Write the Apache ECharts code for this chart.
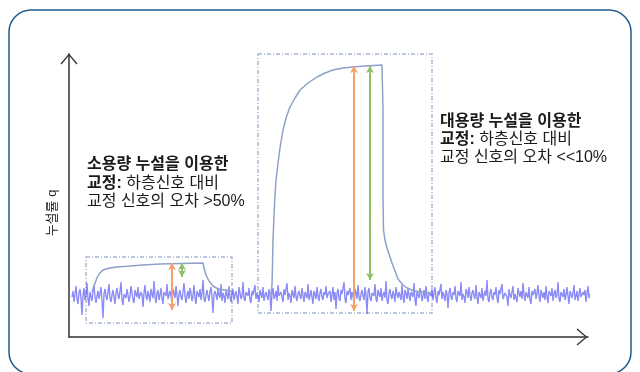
<!DOCTYPE html>
<html>
<head>
<meta charset="utf-8">
<script src="https://cdn.jsdelivr.net/npm/echarts@6/dist/echarts.min.js"></script>
<style>
html,body{margin:0;padding:0;background:#fff;}
#chart{width:640px;height:372px;}
</style>
</head>
<body>
<div id="chart"></div>
<script>
// ---- data (arbitrary units: time t, leak rate q) ----
const noiseStart = 3;
const noiseStep = 1;
const noiseValues = [
40,46,35,43,51,38,33,44,48,39,22,42,49,37,41,54,38,31,45,43,
36,47,52,40,34,41,46,38,44,50,36,19,43,48,41,37,45,53,39,35,
42,47,40,33,44,49,42,38,46,55,37,32,43,45,39,48,42,35,41,51,
44,37,34,47,43,40,50,38,36,45,42,30,44,52,41,37,46,41,35,48,
43,39,56,40,34,44,47,37,42,49,39,33,45,43,41,53,38,36,46,41,
35,48,44,39,51,42,31,43,47,40,37,45,54,41,34,42,46,38,49,44,
36,41,52,39,33,46,43,40,48,37,44,57,38,35,42,47,41,36,45,50,
40,24,43,46,42,37,49,42,39,53,36,44,41,34,47,45,38,51,40,35,
43,48,37,42,46,40,33,50,44,38,41,55,39,36,45,43,41,49,37,34,
46,42,40,52,38,44,41,35,47,43,39,50,36,42,45,41,37,48,43,26,
44,49,38,41,46,36,52,41,39,45,43,35,48,42,40,54,37,44,41,34,
47,45,39,51,40,36,43,46,41,38,49,42,35,45,44,39,53,37,41,47,
40,33,46,43,38,50,41,36,44,48,40,37,45,42,51,39,43,41,46,35,
42,50,37,45,28,44,48,39,36,47,43,41,55,38,34,46,42,40,49,37,
45,41,33,48,44,38,52,40,36,43,47,41,37,50,42,23,45,49,39,36,
44,46,41,53,38,35,47,43,40,49,36,42,45,39,56,37,33,44,48,41,
38,46,42,35,50,43,39,45,41,37,52,40,34,47,44,38,48,42,36,45,
43,40,54,37,31,46,42,39,49,44,36,41,47,38,51,40,35,45,43,41,
48,37,44,50,39,34,46,42,40,53,38,45,41,36,47,43,29,44,49,40,
37,45,42,51,38,35,46,44,41,55,37,43,40,34,48,45,39,50,42,36,
44,47,41,38,52,40,33,45,43,39,49,36,42,46,41,57,38,35,44,48,
40,37,45,42,50,39,34,47,43,41,53,38,36,44,46,40,31,48,42,39,
45,51,37,43,41,35,49,44,40,46,38,54,42,36,45,43,39,50,37,33,
46,42,40,48,38,44,52,41,35,47,43,39,45,37,51,40,34,46,44,41,
49,36,43,47,39,42,55,38,35,45,44,40,48,37,42,50,41,33,46,43,
39,44,52,37,41,46,36,43,49,40,38,45,42,47,35,44,51,39,42,45
];
const smallStepT = [23,25,26,28,30,32,34,37,41,48,61,74,91,111,134,135,137,140,144,149,156,163];
const smallStepQ = [45,50,54,59,63,65,67,68,69,70,71,72,73,73.5,74,69,62,56,51,48,47,46];
const bigStepT = [202,203,203.5,204,205,206,207,209,211,214,217,221,226,231,239,248,256,264,274,284,296,313,314,314,314.5,316,318,323,329,334,338,345,363];
const bigStepQ = [42,52,72,97,122,142,157,174,189,207,219,230,239,247,254,260,264,267,269,270,271,272,227,137,107,97,89,74,58,52,49,46,44];
// calibration arrows: [t, qTop, qBottom]
const smallOrange = [103, 74, 27];
const smallGreen = [113, 74, 60];
const bigOrange = [285, 271, 26];
const bigGreen = [301, 271, 57];
// boxes: [t0, q0, t1, q1]
const smallBox = [17, 80, 163, 14];
const bigBox = [189, 283, 363, 24];
const axisLabelY = '누설률 q';
const textSmall = ['소용량 누설을 이용한', '하층신호 대비', '교정 신호의 오차 >50%'];
const textBig = ['대용량 누설을 이용한', '하층신호 대비', '교정 신호의 오차 <<10%'];
const boldWord = '교정:';

// ---- build ----
const noiseData = noiseValues.map((v, i) => [noiseStart + noiseStep * i, v]);
const pairs = (ts, qs) => ts.map((t, i) => [t, qs[i]]);
const FONT = '"Liberation Sans", "Noto Sans CJK KR", sans-serif';
const chevron = 'path://M0,10L8.5,0L17,10L16.01,10.84L8.5,2L0.99,10.84Z';
const ORANGE = '#f3a06c', GREEN = '#8cc063';
const FS = 16;

function arrow(a, color) {
  return [{ coord: [a[0], a[1]], lineStyle: { color: color } }, { coord: [a[0], a[2]] }];
}
function box(b) {
  return [{ coord: [b[0], b[1]] }, { coord: [b[2], b[3]] }];
}
const markLineBase = {
  silent: true, symbol: ['arrow', 'arrow'], symbolSize: [6, 7],
  label: { show: false }, lineStyle: { width: 2, type: 'solid' }, animation: false
};
const markAreaBase = {
  silent: true,
  itemStyle: { color: 'rgba(0,0,0,0)', borderColor: '#a9b6d4', borderWidth: 1.5, borderType: [4, 2, 1, 2] },
  label: { show: false }
};
const axisLineStyle = { color: '#333', width: 1.5 };

function textLines(x, ys, lines) {
  return [
    { type: 'text', x: x, y: ys[0], z: 100,
      style: { text: lines[0], fontSize: FS, fontWeight: 'bold', fontFamily: FONT, fill: '#1a1a1a', verticalAlign: 'middle' } },
    { type: 'text', x: x, y: ys[1], z: 100,
      style: { text: '{b|' + boldWord + '} {n|' + lines[1] + '}', fontSize: FS, fontFamily: FONT, fill: '#1a1a1a', verticalAlign: 'middle',
        rich: { b: { fontSize: FS, fontWeight: 'bold', fontFamily: FONT, fill: '#1a1a1a' },
                n: { fontSize: FS, fontFamily: FONT, fill: '#1a1a1a' } } } },
    { type: 'text', x: x, y: ys[2], z: 100,
      style: { text: lines[2], fontSize: FS, fontFamily: FONT, fill: '#1a1a1a', verticalAlign: 'middle' } }
  ];
}

const chart = echarts.init(document.getElementById('chart'), null, { renderer: 'canvas' });
chart.setOption({
  animation: false,
  backgroundColor: '#fff',
  grid: { left: 69, right: 52, top: 54, bottom: 35 },
  xAxis: {
    type: 'value', min: 0, max: 519,
    axisLine: { show: true, lineStyle: axisLineStyle, symbol: ['none', chevron], symbolSize: [17, 11], symbolOffset: [0, -6] },
    axisTick: { show: false }, axisLabel: { show: false }, splitLine: { show: false }
  },
  yAxis: {
    type: 'value', min: 0, max: 283,
    axisLine: { show: true, lineStyle: axisLineStyle, symbol: ['none', chevron], symbolSize: [17, 11], symbolOffset: [0, -5] },
    axisTick: { show: false }, axisLabel: { show: false }, splitLine: { show: false }
  },
  series: [
    {
      type: 'line', data: noiseData, showSymbol: false, z: 2,
      lineStyle: { color: 'rgba(64,64,245,0.6)', width: 1.4 }
    },
    {
      type: 'line', data: pairs(smallStepT, smallStepQ), showSymbol: false, z: 3,
      lineStyle: { color: '#8fa1c8', width: 1.5 },
      markArea: Object.assign({ data: [box(smallBox)] }, markAreaBase),
      markLine: Object.assign({ data: [arrow(smallOrange, ORANGE), arrow(smallGreen, GREEN)] }, markLineBase)
    },
    {
      type: 'line', data: pairs(bigStepT, bigStepQ), showSymbol: false, z: 3,
      lineStyle: { color: '#8fa1c8', width: 1.5 },
      markArea: Object.assign({ data: [box(bigBox)] }, markAreaBase),
      markLine: Object.assign({ data: [arrow(bigOrange, ORANGE), arrow(bigGreen, GREEN)] }, markLineBase)
    }
  ],
  graphic: [
    { type: 'rect', z: 0, shape: { x: 9, y: 10, width: 622, height: 364, r: 22 },
      style: { fill: 'none', stroke: '#1f5b8c', lineWidth: 1.5 } },
    { type: 'text', x: 52, y: 213, rotation: Math.PI / 2, z: 100,
      style: { text: axisLabelY, fontSize: 13, fontFamily: FONT, fill: '#1a1a1a', align: 'center', verticalAlign: 'middle' } }
  ].concat(textLines(87, [165, 183.5, 202], textSmall), textLines(440, [122, 140, 158], textBig))
});
</script>
</body>
</html>
